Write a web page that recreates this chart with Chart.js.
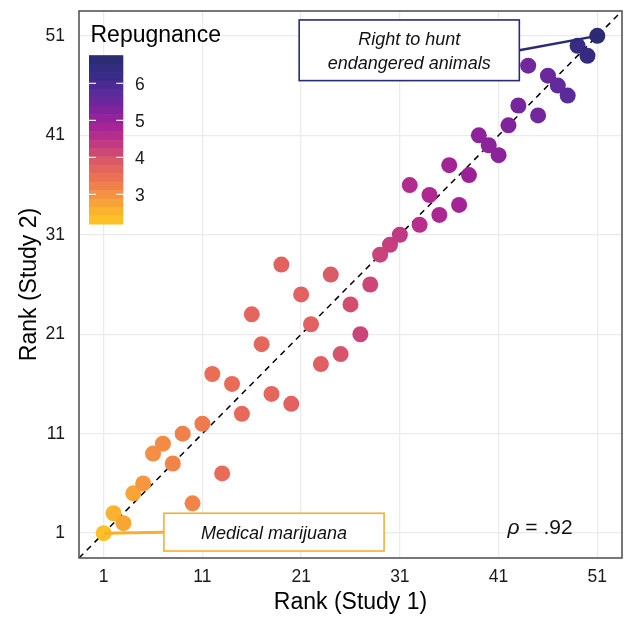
<!DOCTYPE html>
<html>
<head>
<meta charset="utf-8">
<script src="https://cdn.jsdelivr.net/npm/chart.js@4"></script>
<style>
  html, body { margin: 0; padding: 0; background: #ffffff; }
  canvas { display: block; }
</style>
</head>
<body>
<canvas id="c" width="626" height="617"></canvas>
<script>
// ---------------- data ----------------
const study1Rank = [1, 2, 3, 4, 5, 6, 7, 8, 9, 10, 11, 12, 13, 14, 15, 16, 17, 18, 19, 20,
  21, 22, 23, 24, 25, 26, 27, 28, 29, 30, 31, 32, 33, 34, 35, 36, 37, 38, 39, 40,
  41, 42, 43, 44, 45, 46, 47, 48, 49, 50, 51];
const study2Rank = [1, 3, 2, 5, 6, 9, 10, 8, 11, 4, 12, 17, 7, 16, 13, 23, 20, 15, 28, 14,
  25, 22, 18, 27, 19, 24, 21, 26, 29, 30, 31, 36, 32, 35, 33, 38, 34, 37, 41, 40,
  39, 42, 44, 48, 43, 47, 46, 45, 50, 49, 51];
const repugnance = [2.2, 2.45, 2.65, 2.65, 2.85, 2.95, 3.0, 3.1, 3.15, 3.1,
  3.25, 3.45, 3.5, 3.5, 3.55, 3.65, 3.6, 3.6, 3.7, 3.7,
  3.72, 3.72, 3.78, 3.85, 3.95, 4.05, 4.18, 4.15, 4.2, 4.28,
  4.38, 4.62, 4.55, 4.7, 4.75, 4.9, 4.9, 5.0, 5.15, 5.2,
  5.2, 5.35, 5.45, 5.5, 5.5, 5.6, 5.7, 5.8, 6.4, 6.45, 6.76];
const axisTicks = [1, 11, 21, 31, 41, 51];
const legendTicks = [3, 4, 5, 6];
const axisMin = -1.5;
const axisMax = 53.5;
const rhoText = '.92';
const labelTexts = [['Right to hunt', 'endangered animals'], ['Medical marijuana']];
const labelPointIndex = [50, 0];

// ---------------- styles ----------------
const FONT = "'Liberation Sans', Arial, Helvetica, sans-serif";
Chart.defaults.font.family = FONT;
Chart.defaults.color = '#1a1a1a';

const cmapStops = [
  [2.2, '#FDC027'], [2.6, '#F9A934'], [3.0, '#F48B45'], [3.4, '#EC7054'],
  [3.8, '#DE5E63'], [4.2, '#C9447A'], [4.6, '#B42C8D'], [5.0, '#9C2199'],
  [5.4, '#7A259D'], [5.8, '#5A2B9A'], [6.2, '#3E2B8C'], [6.76, '#2C2C74']
];
function hexToRgb(h) { return [parseInt(h.slice(1,3),16), parseInt(h.slice(3,5),16), parseInt(h.slice(5,7),16)]; }
function cmap(v) {
  if (v <= cmapStops[0][0]) return cmapStops[0][1];
  for (let i = 1; i < cmapStops.length; i++) {
    if (v <= cmapStops[i][0]) {
      const [v0, c0] = cmapStops[i-1], [v1, c1] = cmapStops[i];
      const t = (v - v0) / (v1 - v0);
      const a = hexToRgb(c0), b = hexToRgb(c1);
      const r = a.map((x, k) => Math.round(x + (b[k] - x) * t));
      return `rgb(${r[0]},${r[1]},${r[2]})`;
    }
  }
  return cmapStops[cmapStops.length-1][1];
}

const points = study1Rank.map((x, i) => ({ x: x, y: study2Rank[i] }));
const identityLine = [{ x: axisMin, y: axisMin }, { x: axisMax, y: axisMax }];

// label boxes in data coordinates [x0, x1, y0, y1]; connector side
const labelBoxes = [
  { box: [20.8, 43.1, 46.5, 52.6], color: '#2A2A76', lw: 2.5, side: 'right' },
  { box: [7.1, 29.4, -0.8, 3.0], color: '#F9AE2E', lw: 3, side: 'left' }
];

const overlayPlugin = {
  id: 'overlay',
  afterDatasetsDraw(chart) {
    const { ctx, chartArea: ca, scales: { x, y } } = chart;
    ctx.save();
    ctx.beginPath();
    ctx.rect(ca.left, ca.top, ca.right - ca.left, ca.bottom - ca.top);
    ctx.clip();

    // labels with connectors
    labelBoxes.forEach((lb, k) => {
      const [bx0, bx1, by0, by1] = lb.box;
      const L = x.getPixelForValue(bx0), R = x.getPixelForValue(bx1);
      const T = y.getPixelForValue(by1), B = y.getPixelForValue(by0);
      const cy = (T + B) / 2, cx = (L + R) / 2;
      const pi = labelPointIndex[k];
      const px = x.getPixelForValue(study1Rank[pi]), py = y.getPixelForValue(study2Rank[pi]);
      ctx.strokeStyle = lb.color;
      ctx.lineWidth = lb.lw;
      ctx.beginPath();
      if (lb.side === 'right') { ctx.moveTo(R, cy); } else { ctx.moveTo(L, cy); }
      ctx.lineTo(px, py);
      ctx.stroke();
      ctx.fillStyle = '#ffffff';
      ctx.fillRect(L, T, R - L, B - T);
      ctx.lineWidth = 1.6;
      ctx.strokeRect(L, T, R - L, B - T);
      ctx.fillStyle = '#111111';
      ctx.font = `italic 18px ${FONT}`;
      ctx.textAlign = 'center';
      ctx.textBaseline = 'alphabetic';
      const lines = labelTexts[k];
      lines.forEach((s, i) => {
        const by = cy + (i - (lines.length - 1) / 2) * 24 + 7.2;
        ctx.fillText(s, cx, by);
      });
    });

    // rho annotation
    const rx = x.getPixelForValue(45.2), ry = y.getPixelForValue(1.7) + 7.5;
    ctx.fillStyle = '#111111';
    ctx.textBaseline = 'alphabetic';
    ctx.font = `italic 21px ${FONT}`;
    const wRho = ctx.measureText('ρ').width;
    ctx.font = `21px ${FONT}`;
    const rest = ' = ' + rhoText;
    const wRest = ctx.measureText(rest).width;
    const sx = rx - (wRho + wRest) / 2;
    ctx.textAlign = 'left';
    ctx.font = `italic 21px ${FONT}`;
    ctx.fillText('ρ', sx, ry);
    ctx.font = `21px ${FONT}`;
    ctx.fillText(rest, sx + wRho, ry);
    ctx.restore();

    // panel border
    ctx.save();
    ctx.strokeStyle = '#555555';
    ctx.lineWidth = 1.6;
    ctx.strokeRect(ca.left, ca.top, ca.right - ca.left, ca.bottom - ca.top);

    // colorbar legend
    const vmin = Math.min(...repugnance), vmax = Math.max(...repugnance);
    const barL = 89, barR = 123.3, pxPerUnit = 37, y6 = 83.3;
    const vy = v => y6 + (6 - v) * pxPerUnit;
    const top = vy(vmax), bot = vy(vmin);
    const nbin = 20;
    const h = (bot - top) / nbin;
    for (let i = 0; i < nbin; i++) {
      const v = vmax - i * (vmax - vmin) / (nbin - 1);
      ctx.fillStyle = cmap(v);
      ctx.fillRect(barL, top + i * h, barR - barL, h + 0.6);
    }
    ctx.strokeStyle = 'rgba(255,255,255,0.9)';
    ctx.lineWidth = 1.2;
    legendTicks.forEach(t => {
      const ty = vy(t);
      ctx.beginPath();
      ctx.moveTo(barL, ty); ctx.lineTo(barL + 7, ty);
      ctx.moveTo(barR - 7, ty); ctx.lineTo(barR, ty);
      ctx.stroke();
    });
    ctx.fillStyle = '#1a1a1a';
    ctx.font = `17.5px ${FONT}`;
    ctx.textAlign = 'left';
    ctx.textBaseline = 'alphabetic';
    legendTicks.forEach(t => {
      ctx.fillText(String(t), 135, vy(t) + 6.3);
    });
    ctx.fillStyle = '#000000';
    ctx.font = `23px ${FONT}`;
    ctx.fillText('Repugnance', 90.5, 41.7);
    ctx.restore();
  }
};

const setTicks = scale => { scale.ticks = axisTicks.map(v => ({ value: v })); };
const zeroPad = s => { s.paddingTop = 0; s.paddingBottom = 0; s.paddingLeft = 0; s.paddingRight = 0; };

new Chart(document.getElementById('c'), {
  type: 'scatter',
  data: {
    datasets: [
      {
        type: 'scatter',
        data: points,
        backgroundColor: repugnance.map(cmap),
        borderWidth: 0,
        pointRadius: 8,
        pointHoverRadius: 8,
        order: 0
      },
      {
        type: 'line',
        data: identityLine,
        borderColor: '#000000',
        borderWidth: 1.5,
        borderDash: [6, 5],
        pointRadius: 0,
        fill: false,
        order: 1
      }
    ]
  },
  options: {
    responsive: false,
    animation: false,
    devicePixelRatio: 1,
    layout: { autoPadding: false, padding: { top: 11, right: 4, left: 0, bottom: 0 } },
    plugins: { legend: { display: false }, tooltip: { enabled: false } },
    scales: {
      x: {
        type: 'linear',
        min: axisMin, max: axisMax,
        afterBuildTicks: setTicks,
        afterFit: s => { s.height = 59; zeroPad(s); },
        grid: { color: '#EBEBEB', lineWidth: 1.3, drawTicks: false },
        border: { display: false },
        ticks: { padding: 9, font: { size: 17.5 }, color: '#1a1a1a', maxRotation: 0, autoSkip: false, callback: v => String(v) },
        title: { display: true, text: 'Rank (Study 1)', font: { size: 23, lineHeight: 1 }, color: '#000', padding: { top: 0, bottom: 3 } }
      },
      y: {
        type: 'linear',
        min: axisMin, max: axisMax,
        afterBuildTicks: setTicks,
        afterFit: s => { s.width = 79; zeroPad(s); },
        grid: { color: '#EBEBEB', lineWidth: 1.3, drawTicks: false },
        border: { display: false },
        ticks: { padding: 14, font: { size: 17.5 }, color: '#1a1a1a', autoSkip: false, callback: v => String(v) },
        title: { display: true, text: 'Rank (Study 2)', font: { size: 23, lineHeight: 1 }, color: '#000', padding: { top: 18, bottom: 0 } }
      }
    }
  },
  plugins: [overlayPlugin]
});
</script>
</body>
</html>
